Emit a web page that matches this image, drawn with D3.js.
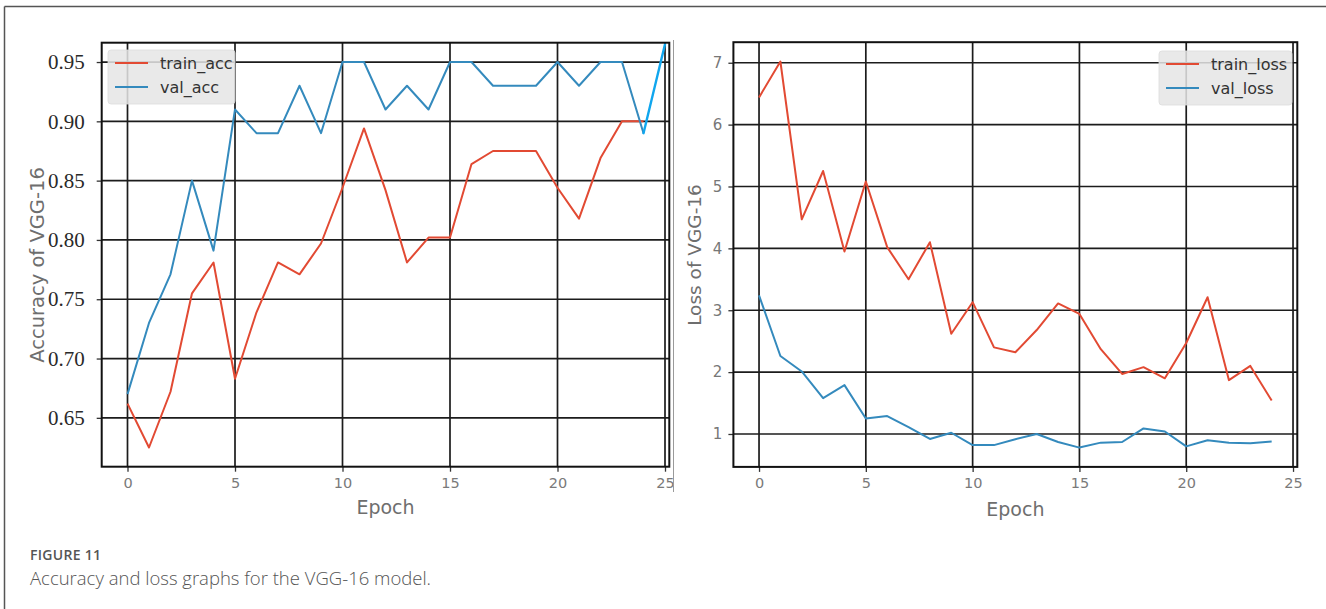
<!DOCTYPE html>
<html>
<head>
<meta charset="utf-8">
<script src="https://cdn.jsdelivr.net/npm/d3@7"></script>
<style>
  body { margin: 0; background: #fff; }
  svg { display: block; }
</style>
</head>
<body>
<svg id="fig" width="1326" height="609"></svg>
<script>
// ---- data -------------------------------------------------------------
const epochs = d3.range(25);
const trainAcc = [0.662, 0.625, 0.672, 0.755, 0.781, 0.683, 0.739, 0.781, 0.771, 0.797,
                  0.844, 0.894, 0.842, 0.781, 0.802, 0.802, 0.864, 0.875, 0.875, 0.875,
                  0.844, 0.818, 0.869, 0.900, 0.900];
const valAcc   = [0.670, 0.730, 0.771, 0.850, 0.791, 0.910, 0.890, 0.890, 0.930, 0.890,
                  0.950, 0.950, 0.910, 0.930, 0.910, 0.950, 0.950, 0.930, 0.930, 0.930,
                  0.950, 0.930, 0.950, 0.950, 0.890];
// extra highlighted step of val_acc reaching epoch 25
const valAccFinalEpoch = 25;
const valAccFinal = 0.965;

const trainLoss = [6.44, 7.02, 4.47, 5.25, 3.95, 5.08, 4.02, 3.50, 4.10, 2.62,
                   3.13, 2.40, 2.32, 2.68, 3.11, 2.94, 2.37, 1.97, 2.08, 1.90,
                   2.47, 3.21, 1.87, 2.10, 1.54];
const valLoss   = [3.24, 2.26, 2.01, 1.58, 1.79, 1.25, 1.29, 1.11, 0.92, 1.02,
                   0.82, 0.82, 0.915, 1.00, 0.87, 0.78, 0.86, 0.87, 1.09, 1.04,
                   0.80, 0.90, 0.86, 0.85, 0.88];

const epochTicks = [0, 5, 10, 15, 20, 25];
const accTicks = [0.65, 0.70, 0.75, 0.80, 0.85, 0.90, 0.95];
const lossTicks = [1, 2, 3, 4, 5, 6, 7];

const accLegend = ["train_acc", "val_acc"];
const lossLegend = ["train_loss", "val_loss"];

// ---- styling ----------------------------------------------------------
const RED = "#E24A33", BLUE = "#348ABD", CYAN = "#10a6ee";
const svg = d3.select("#fig");

// outer figure frame (top and left rules)
svg.append("line").attr("x1", 4.5).attr("x2", 1326).attr("y1", 6.5).attr("y2", 6.5)
  .attr("stroke", "#555").attr("stroke-width", 1.5);
svg.append("line").attr("x1", 4.5).attr("x2", 4.5).attr("y1", 6.5).attr("y2", 609)
  .attr("stroke", "#555").attr("stroke-width", 1.5);

// ---- panel drawing ----------------------------------------------------
function panel(opt) {
  const x = d3.scaleLinear().domain([-1.2, 25.2]).range([opt.left, opt.right]);
  const y = d3.scaleLinear().domain(opt.yDomain).range([opt.bottom, opt.top]);
  const g = svg.append("g");

  // grid
  g.append("g").selectAll("line").data(epochTicks).join("line")
    .attr("x1", d => x(d)).attr("x2", d => x(d))
    .attr("y1", opt.top).attr("y2", opt.bottom)
    .attr("stroke", "#1c1c1c").attr("stroke-width", 1.7);
  g.append("g").selectAll("line").data(opt.yTicks).join("line")
    .attr("x1", opt.left).attr("x2", opt.right)
    .attr("y1", d => y(d)).attr("y2", d => y(d))
    .attr("stroke", "#1c1c1c").attr("stroke-width", 1.7);

  // axes with outward ticks
  const xAxis = g.append("g").attr("transform", `translate(0,${opt.bottom})`)
    .call(d3.axisBottom(x).tickValues(epochTicks).tickSize(5).tickPadding(6).tickFormat(d3.format("d")));
  xAxis.select(".domain").remove();
  xAxis.selectAll(".tick line").attr("stroke", "#333").attr("stroke-width", 1.3);
  xAxis.selectAll("text").attr("fill", "#7a7a7a")
    .style("font-family", "'DejaVu Sans', sans-serif").style("font-size", "14.5px");

  const yAxis = g.append("g").attr("transform", `translate(${opt.left},0)`)
    .call(d3.axisLeft(y).tickValues(opt.yTicks).tickSize(5).tickPadding(opt.yPad).tickFormat(opt.yFormat));
  yAxis.select(".domain").remove();
  yAxis.selectAll(".tick line").attr("stroke", "#333").attr("stroke-width", 1.3);
  yAxis.selectAll("text").attr("fill", opt.yColor)
    .style("font-family", opt.yFont).style("font-size", opt.ySize);

  // lines
  const line = d3.line().x((d, i) => x(epochs[i])).y(d => y(d));
  g.append("path").datum(opt.series[0]).attr("d", line)
    .attr("fill", "none").attr("stroke", RED).attr("stroke-width", 2).attr("stroke-linejoin", "round");
  g.append("path").datum(opt.series[1]).attr("d", line)
    .attr("fill", "none").attr("stroke", BLUE).attr("stroke-width", 2).attr("stroke-linejoin", "round");
  if (opt.extra) opt.extra(g, x, y);

  // plot frame
  g.append("rect").attr("x", opt.left).attr("y", opt.top)
    .attr("width", opt.right - opt.left).attr("height", opt.bottom - opt.top)
    .attr("fill", "none").attr("stroke", "#111").attr("stroke-width", 2);

  // labels
  g.append("text").attr("x", (opt.left + opt.right) / 2).attr("y", opt.xLabelY)
    .attr("text-anchor", "middle").attr("fill", "#6e6e6e")
    .style("font-family", "'DejaVu Sans', sans-serif").style("font-size", "19px")
    .text("Epoch");
  g.append("text")
    .attr("transform", `translate(${opt.yLabelX},${opt.yLabelY}) rotate(-90)`)
    .attr("text-anchor", "middle").attr("dominant-baseline", "central").attr("fill", "#6e6e6e")
    .style("font-family", "'DejaVu Sans', sans-serif").style("font-size", opt.yLabelSize)
    .text(opt.yLabel);

  // legend
  const L = opt.legend;
  g.append("rect").attr("x", L.x).attr("y", L.y).attr("width", L.w).attr("height", 54)
    .attr("rx", 3).attr("fill", "#E5E5E5").attr("fill-opacity", 0.85)
    .attr("stroke", "#dcdcdc").attr("stroke-width", 0.8);
  const items = g.append("g").selectAll("g").data(L.names).join("g")
    .attr("transform", (d, i) => `translate(${L.x + 7},${L.y + 13 + i * 24})`);
  items.append("line").attr("x1", 0).attr("x2", 33).attr("y1", 0).attr("y2", 0)
    .attr("stroke", (d, i) => i === 0 ? RED : BLUE).attr("stroke-width", 2);
  items.append("text").attr("x", 45).attr("y", 6).attr("fill", "#333")
    .style("font-family", "'DejaVu Sans', sans-serif").style("font-size", "16px")
    .text(d => d);
}

panel({
  left: 101.7, right: 669.3, top: 42.7, bottom: 466.7,
  yDomain: [0.6088, 0.9663], yTicks: accTicks, yFormat: d3.format(".2f"),
  yFont: "'Liberation Serif', 'Times New Roman', serif", ySize: "21px", yColor: "#2a2a2a", yPad: 12,
  series: [trainAcc, valAcc],
  xLabelY: 514, yLabelX: 37, yLabelY: 265, yLabelSize: "19.5px", yLabel: "Accuracy of VGG-16",
  legend: { x: 108, y: 50, w: 127, names: accLegend },
  extra: (g, x, y) => {
    const last = valAcc.length - 1;
    g.append("line")
      .attr("x1", x(epochs[last])).attr("y1", y(valAcc[last]))
      .attr("x2", x(valAccFinalEpoch)).attr("y2", y(valAccFinal))
      .attr("stroke", CYAN).attr("stroke-width", 2.4).attr("stroke-linecap", "round");
  }
});

panel({
  left: 733.4, right: 1297.3, top: 42.2, bottom: 466.9,
  yDomain: [0.468, 7.332], yTicks: lossTicks, yFormat: d3.format("d"),
  yFont: "'DejaVu Sans', sans-serif", ySize: "15px", yColor: "#777", yPad: 6,
  series: [trainLoss, valLoss],
  xLabelY: 516, yLabelX: 694, yLabelY: 255, yLabelSize: "18.5px", yLabel: "Loss of VGG-16",
  legend: { x: 1159, y: 51, w: 133, names: lossLegend }
});

// edge of the left panel's canvas
svg.append("line").attr("x1", 673.5).attr("x2", 673.5).attr("y1", 40).attr("y2", 492)
  .attr("stroke", "#9a9a9a").attr("stroke-width", 1);

// ---- caption ------------------------------------------------------------
svg.append("text").attr("x", 30).attr("y", 560).attr("fill", "#555")
  .style("font-family", "'Open Sans', sans-serif").style("font-size", "14px").style("font-weight", 600)
  .style("letter-spacing", "0.3px")
  .text("FIGURE 11");
svg.append("text").attr("x", 30).attr("y", 585).attr("fill", "#555")
  .style("font-family", "'Open Sans', sans-serif").style("font-size", "18.5px").style("font-weight", 300)
  .text("Accuracy and loss graphs for the VGG-16 model.");
</script>
</body>
</html>
